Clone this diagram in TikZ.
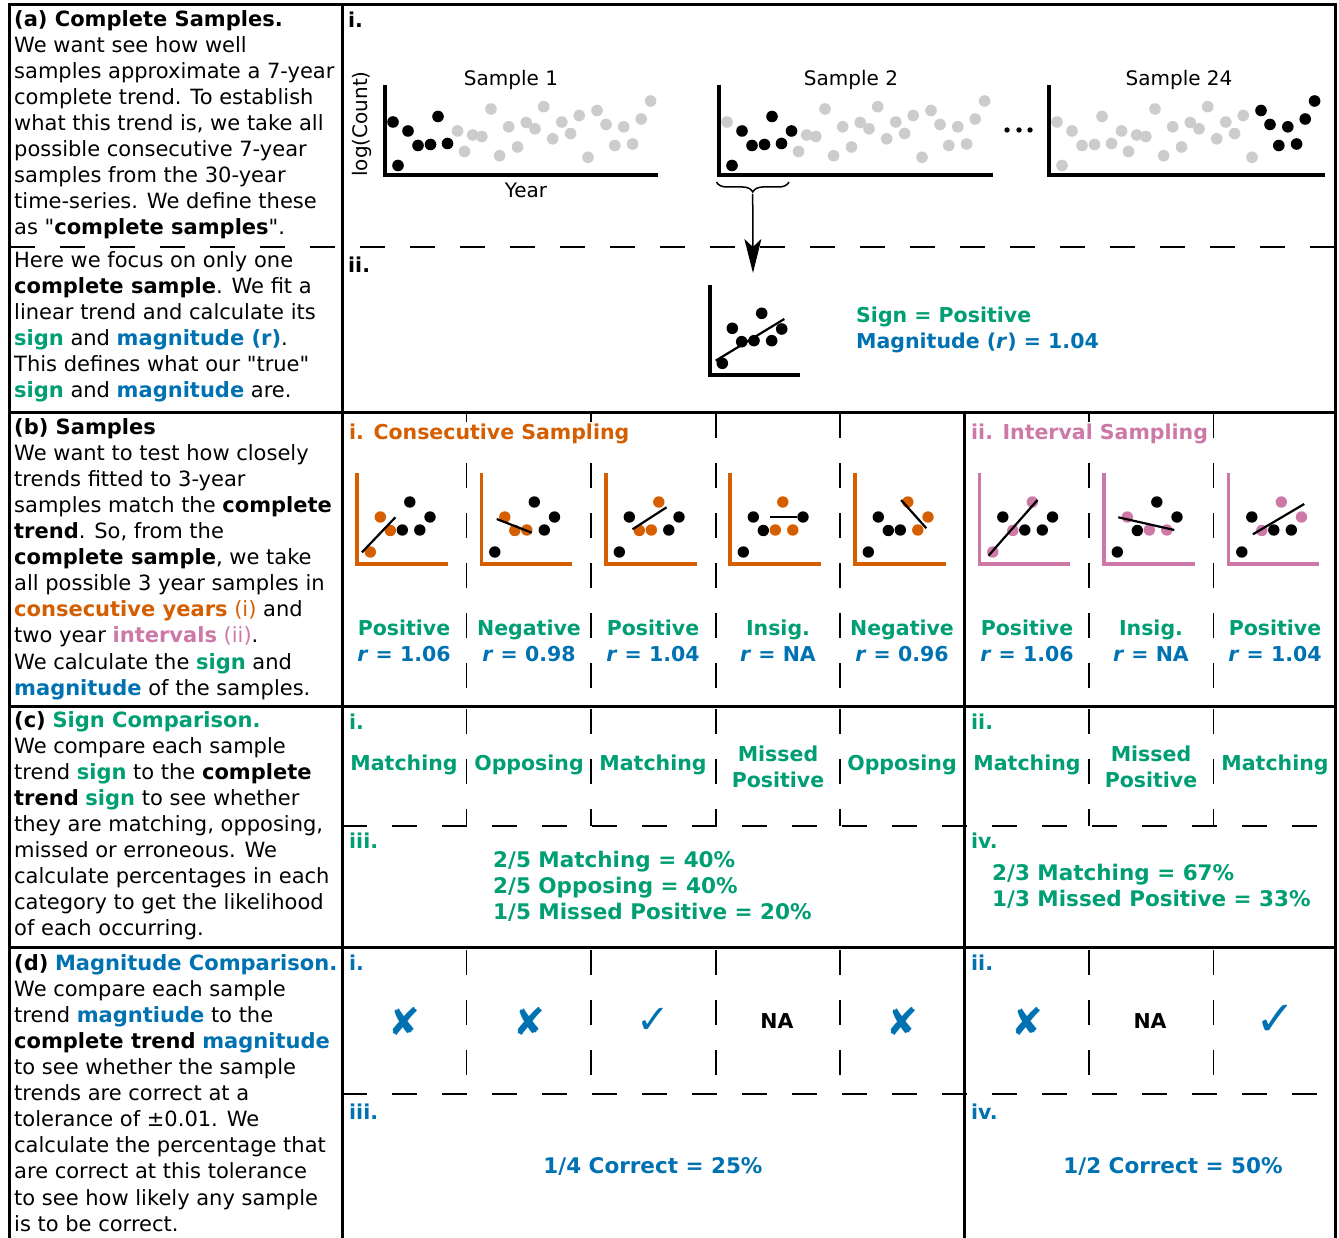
\documentclass[tikz,border=0pt]{standalone}
\usepackage{fontspec}
\setmainfont{DejaVu Sans}[Ligatures=TeXOff]
\usetikzlibrary{arrows.meta,decorations.pathreplacing}
\definecolor{cgreen}{HTML}{009E73}
\definecolor{cblue}{HTML}{0072B2}
\definecolor{corange}{HTML}{D55E00}
\definecolor{cpink}{HTML}{CC79A7}
\definecolor{cgrey}{HTML}{CCCCCC}
\newcommand{\gn}[1]{\textbf{\color{cgreen}#1}}
\newcommand{\bl}[1]{\textbf{\color{cblue}#1}}
\newcommand{\resn}[2]{{\color{cgreen}#1}\\{\color{cblue}\textit{r} = #2}}
\newcommand{\bigplot}[4]{%
  \foreach \dx/\yy [count=\i] in {8/122,13/165.5,23/131,33/145.5,45.5/144.5,53/116.5,62.5/143.5,72.5/131,79.5/151.5,87.7/135,96.8/136.5,106/109,114.6/155.7,123.7/126.8,132.5/147,141.2/122.5,150/128.8,158.7/106.7,167.7/138.8,176.8/122,185.6/133.5,194.2/115.5,203/157.3,212/110.5,221/124.5,229.8/145.5,238.8/126.8,247.6/144,256.2/119,265.6/101}{%
    \ifnum\i<#3\relax\def\cc{cgrey}\else\ifnum\i>#4\relax\def\cc{cgrey}\else\def\cc{black}\fi\fi
    \fill[\cc] (#1+\dx,\yy) circle[radius=5.8];
  }%
  \draw[axisbig] (#1,85) -- (#1,175) -- (#2,175);
}
\newcommand{\miniplot}[6]{%
  \begin{scope}[shift={(#1,#2)}]
    \draw[axismini,#3] (0,-91) -- (0,0) -- (90.5,0);
    \foreach \px/\py [count=\i] in {13.3/-12,23.3/-47,33.3/-33.5,45.3/-34,52.8/-62,62.8/-34,73/-47}{%
      \pgfmathtruncatemacro\flag{{#4}[\i-1]}%
      \ifnum\flag=1\relax\def\cc{#3}\else\def\cc{black}\fi
      \fill[\cc] (\px,\py) circle[radius=5.7];
    }
    \draw[trendline] #5 -- #6;
  \end{scope}
}
\begin{document}
\begin{tikzpicture}[x=1pt,y=-1pt,
  frameline/.style={line width=3pt},
  hdash/.style={line width=2pt, dash pattern=on 25pt off 25pt},
  vdash/.style={line width=1.8pt, dash pattern=on 25pt off 25pt},
  txt/.style={anchor=north west, align=left, inner sep=0pt, font=\fontsize{21}{26.1}\selectfont},
  lbl/.style={anchor=north west, inner sep=0pt, font=\fontsize{20.5}{24}\selectfont\bfseries},
  res/.style={align=center, inner sep=0.5pt, font=\fontsize{20.5}{26.1}\selectfont\bfseries},
  stat/.style={align=left, anchor=west, inner sep=0pt, font=\fontsize{21.5}{26.1}\selectfont\bfseries},
  ttl/.style={font=\fontsize{20}{24}\selectfont, inner sep=0pt},
  axisbig/.style={line width=4pt},
  axismini/.style={line width=3.5pt},
  trendline/.style={line width=2.2pt},
  xmark/.style={text=cblue, inner sep=0pt, font=\fontsize{38}{38}\selectfont},
  namark/.style={inner sep=0pt, font=\fontsize{20.5}{24}\selectfont\bfseries}
]
\useasboundingbox (0,0) rectangle (1339,1238);
\fill[white] (0,0) rectangle (1339,1238);

% dashed separators
\draw[hdash] (10,247) -- (1336,247);
\draw[hdash] (342,826) -- (1336,826);
\draw[hdash] (342,1094) -- (1336,1094);
\foreach \xx in {466.5,591,716,840,1089,1213.5}{
  \draw[vdash] (\xx,413) -- (\xx,706);
  \draw[vdash] (\xx,709) -- (\xx,826);
  \draw[vdash] (\xx,950) -- (\xx,1078);
}

% frame
\draw[frameline] (9.5,1240) -- (9.5,4.5) -- (1335.5,4.5) -- (1335.5,1240);
\draw[frameline] (342.5,4.5) -- (342.5,1240);
\draw[frameline] (9.5,412.5) -- (1335.5,412.5);
\draw[frameline] (9.5,706) -- (1335.5,706);
\draw[frameline] (9.5,947) -- (1335.5,947);
\draw[frameline] (964.5,412.5) -- (964.5,1240);

% left column texts
\node[txt] (ta1) at (14,10) {\textbf{(a) Complete Samples.}\\
We want see how well\\
samples approximate a 7-year\\
complete trend. To establish\\
what this trend is, we take all\\
possible consecutive 7-year\\
samples from the 30-year\\
time-series. We define these\\
as "\textbf{complete samples}".};
\node[txt] (ta2) at (14,251) {Here we focus on only one\\
\textbf{complete sample}. We fit a\\
linear trend and calculate its\\
\gn{sign} and \bl{magnitude (r)}.\\
This defines what our "true"\\
\gn{sign} and \bl{magnitude} are.};
\node[txt] (tb) at (14,418) {\textbf{(b) Samples}\\
We want to test how closely\\
trends fitted to 3-year\\
samples match the \textbf{complete}\\
\textbf{trend}. So, from the\\
\textbf{complete sample}, we take\\
all possible 3 year samples in\\
\textbf{\color{corange}consecutive years} {\color{corange}(i)} and\\
two year \textbf{\color{cpink}intervals} {\color{cpink}(ii)}.\\
We calculate the \gn{sign} and\\
\bl{magnitude} of the samples.};
\node[txt] (tc) at (14,711) {\textbf{(c)} \gn{Sign Comparison.}\\
We compare each sample\\
trend \gn{sign} to the \textbf{complete}\\
\textbf{trend} \gn{sign} to see whether\\
they are matching, opposing,\\
missed or erroneous. We\\
calculate percentages in each\\
category to get the likelihood\\
of each occurring.};
\node[txt] (td) at (14,954) {\textbf{(d)} \bl{Magnitude Comparison.}\\
We compare each sample\\
trend \bl{magntiude} to the\\
\textbf{complete trend} \bl{magnitude}\\
to see whether the sample\\
trends are correct at a\\
tolerance of ±0.01. We\\
calculate the percentage that\\
are correct at this tolerance\\
to see how likely any sample\\
is to be correct.};

% ---- panel (a) i
\node[lbl] (ai) at (348,12) {i.};
\bigplot{385}{658}{1}{7}
\bigplot{719}{993}{2}{8}
\bigplot{1049}{1325}{24}{30}
\node[ttl] (s1) at (511,80) {Sample 1};
\node[ttl] (s2) at (851,80) {Sample 2};
\node[ttl] (s24) at (1179,80) {Sample 24};
\node[ttl] (yr) at (526,190) {Year};
\node[ttl, rotate=90] (lc) at (362,124) {log(Count)};
\fill (1007,130) circle[radius=2.7];
\fill (1019,130) circle[radius=2.7];
\fill (1030,130) circle[radius=2.7];
\draw[line width=1.5pt, decorate, decoration={brace, amplitude=10pt, mirror}] (716.5,182) -- (789,182);
\coordinate (bracetip) at (752.7,194);
\coordinate (arrowend) at (753,273);
\draw[line width=1.5pt, -{Stealth[length=34pt, width=17pt, inset=8pt]}] (bracetip) -- (arrowend);

% ---- panel (a) ii
\node[lbl] (aii) at (348,257) {ii.};
\begin{scope}[shift={(710,375)}]
  \draw[axisbig] (0,-90) -- (0,0) -- (90,0);
  \foreach \px/\py in {12.3/-11.7,22.3/-46.7,31.7/-33.3,44/-34.3,51.7/-61.7,61.7/-34.3,71.7/-46}
    \fill (\px,\py) circle[radius=5.8];
  \draw[trendline] (5.7,-14.3) -- (74.3,-56);
\end{scope}
\node[stat, font=\fontsize{20.5}{26.1}\selectfont\bfseries] (sm) at (856,330) {{\color{cgreen}Sign = Positive}\\{\color{cblue}Magnitude (\textit{r}) = 1.04}};

% ---- panel (b)
\miniplot{357}{564}{corange}{1,1,1,0,0,0,0}{(5,-11.7)}{(38.4,-46.7)}
\miniplot{481.5}{564}{corange}{0,1,1,1,0,0,0}{(15.2,-45)}{(50.2,-31.3)}
\miniplot{606}{564}{corange}{0,0,1,1,1,0,0}{(26.5,-34.7)}{(60.6,-56.7)}
\miniplot{730}{564}{corange}{0,0,0,1,1,1,0}{(40.1,-46.7)}{(67,-46.7)}
\miniplot{855}{564}{corange}{0,0,0,0,1,1,1}{(46.1,-64)}{(71.4,-35.7)}
\miniplot{979.5}{564}{cpink}{1,0,1,0,1,0,0}{(9,-8.3)}{(58,-64)}
\miniplot{1104}{564}{cpink}{0,1,0,1,0,1,0}{(14.3,-46.7)}{(70.3,-34)}
\miniplot{1228.5}{564}{cpink}{0,0,1,0,1,0,1}{(24.4,-29.7)}{(75.7,-60)}
\node[lbl, fill=white, inner sep=2pt, text=corange] (bi) at (347,422) {i. Consecutive Sampling};
\node[lbl, fill=white, inner sep=2pt, text=cpink] (bii) at (969,422) {ii. Interval Sampling};
\node[res] (b1) at (404,641) {\resn{Positive}{1.06}};
\node[res] (b2) at (529,641) {\resn{Negative}{0.98}};
\node[res] (b3) at (653,641) {\resn{Positive}{1.04}};
\node[res] (b4) at (778,641) {\resn{Insig.}{NA}};
\node[res] (b5) at (902,641) {\resn{Negative}{0.96}};
\node[res] (b6) at (1027,641) {\resn{Positive}{1.06}};
\node[res] (b7) at (1151,641) {\resn{Insig.}{NA}};
\node[res] (b8) at (1275,641) {\resn{Positive}{1.04}};

% ---- panel (c)
\node[lbl, text=cgreen] (ci) at (349,714) {i.};
\node[lbl, text=cgreen] (cii) at (971,714) {ii.};
\node[lbl, text=cgreen] (ciii) at (349,833) {iii.};
\node[lbl, text=cgreen] (civ) at (971,833) {iv.};
\node[res, text=cgreen] (c1) at (404,765) {Matching};
\node[res, text=cgreen] (c2) at (529,765) {Opposing};
\node[res, text=cgreen] (c3) at (653,765) {Matching};
\node[res, text=cgreen] (c4) at (778,766.5) {Missed\\Positive};
\node[res, text=cgreen] (c5) at (902,765) {Opposing};
\node[res, text=cgreen] (c6) at (1027,765) {Matching};
\node[res, text=cgreen] (c7) at (1151,766.5) {Missed\\Positive};
\node[res, text=cgreen] (c8) at (1275,765) {Matching};
\node[stat, text=cgreen] (cs1) at (493,886) {2/5 Matching = 40\%\\2/5 Opposing = 40\%\\1/5 Missed Positive = 20\%};
\node[stat, text=cgreen] (cs2) at (992,886) {2/3 Matching = 67\%\\1/3 Missed Positive = 33\%};

% ---- panel (d)
\node[lbl, text=cblue] (di) at (349,955) {i.};
\node[lbl, text=cblue] (dii) at (971,955) {ii.};
\node[lbl, text=cblue] (diii) at (349,1104) {iii.};
\node[lbl, text=cblue] (div) at (971,1104) {iv.};
\node[xmark] (d1) at (404,1021) {✘};
\node[xmark] (d2) at (529,1021) {✘};
\node[xmark, font=\fontsize{40}{40}\selectfont] (d3) at (653,1021) {✓};
\node[namark] (d4) at (777,1021) {NA};
\node[xmark] (d5) at (902,1021) {✘};
\node[xmark] (d6) at (1027,1021) {✘};
\node[namark] (d7) at (1150,1021) {NA};
\node[xmark, font=\fontsize{48}{48}\selectfont] (d8) at (1276,1020) {✓};
\node[stat, anchor=center, text=cblue] (ds1) at (653,1167) {1/4 Correct = 25\%};
\node[stat, anchor=center, text=cblue] (ds2) at (1173,1167) {1/2 Correct = 50\%};
\end{tikzpicture}
\end{document}
